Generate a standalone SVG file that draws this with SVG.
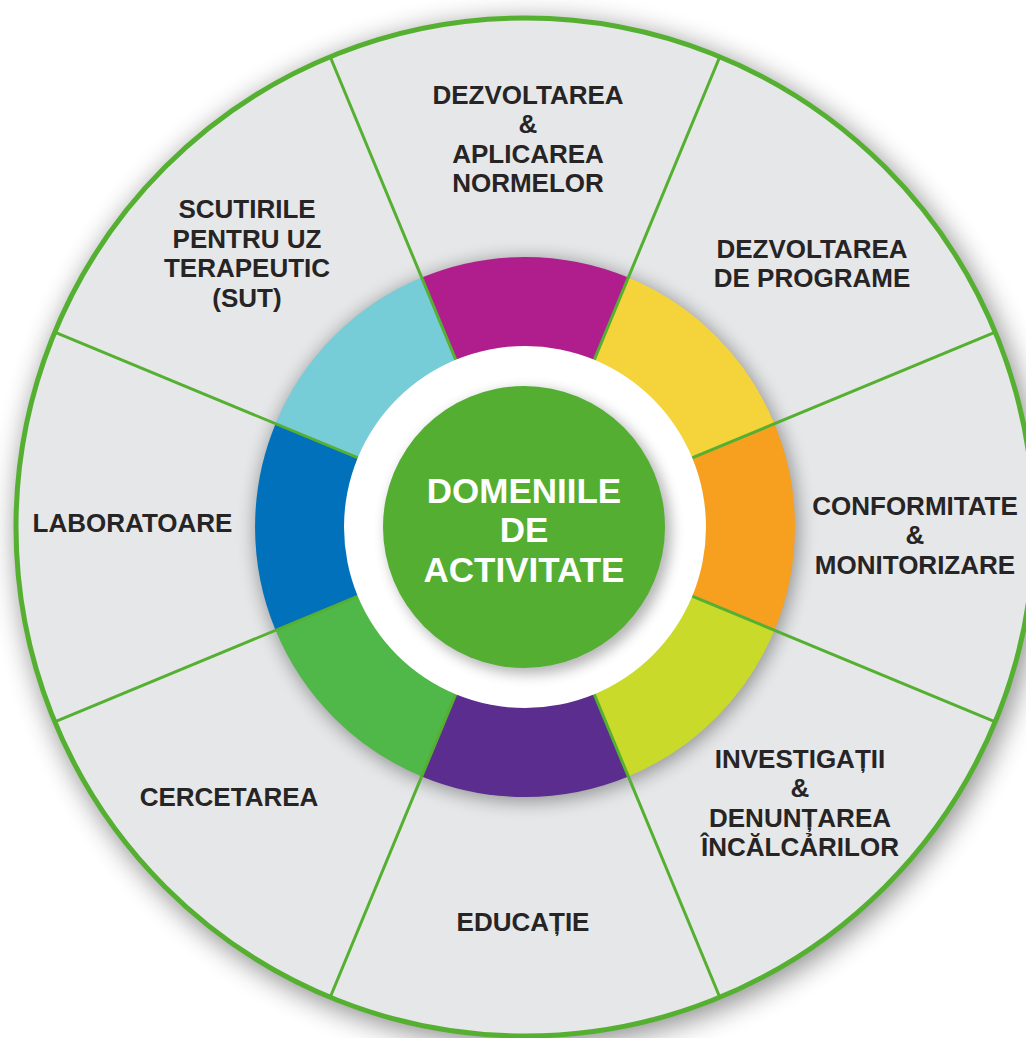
<svg xmlns="http://www.w3.org/2000/svg" width="1026" height="1038" viewBox="0 0 1026 1038">
  <defs>
    <filter id="outerShadow" x="-20%" y="-20%" width="140%" height="140%">
      <feGaussianBlur stdDeviation="14"/>
    </filter>
    <filter id="ringShadow" x="-20%" y="-20%" width="140%" height="140%">
      <feGaussianBlur stdDeviation="9"/>
    </filter>
    <filter id="centerShadow" x="-20%" y="-20%" width="140%" height="140%">
      <feGaussianBlur stdDeviation="7"/>
    </filter>
    <style>
      .lbl { font-family: "Liberation Sans", Arial, sans-serif; font-weight: bold; font-size: 26px; fill: #262425; text-anchor: middle; }
      .ctr { font-family: "Liberation Sans", Arial, sans-serif; font-weight: bold; font-size: 35px; fill: #ffffff; text-anchor: middle; }
      .div { stroke: #55B031; stroke-width: 3; fill: none; }
    </style>
  </defs>
  <rect width="1026" height="1038" fill="#ffffff"/>
  <g id="background">
    <circle cx="529" cy="533" r="512" fill="#000000" opacity="0.45" filter="url(#outerShadow)"/>
    <circle cx="525" cy="527" r="509" fill="#E6E7E8"/>
    <circle cx="527" cy="530" r="272" fill="#000000" opacity="0.35" filter="url(#ringShadow)"/>
  </g>

  <g id="sector-norme">
    <path d="M525 527 L421.7 277.6 A270 270 0 0 1 628.3 277.6 Z" fill="#B01E8E"/>
    <text class="lbl"><tspan x="528" y="104">DEZVOLTAREA</tspan><tspan x="528" y="133">&amp;</tspan><tspan x="528" y="163">APLICAREA</tspan><tspan x="528" y="192">NORMELOR</tspan></text>
  </g>
  <g id="sector-programe">
    <path d="M525 527 L628.3 277.6 A270 270 0 0 1 774.4 423.7 Z" fill="#F5D33B"/>
    <text class="lbl"><tspan x="812" y="258">DEZVOLTAREA</tspan><tspan x="812" y="287">DE PROGRAME</tspan></text>
  </g>
  <g id="sector-conformitate">
    <path d="M525 527 L774.4 423.7 A270 270 0 0 1 774.4 630.3 Z" fill="#F79F1F"/>
    <text class="lbl"><tspan x="915" y="515">CONFORMITATE</tspan><tspan x="915" y="544">&amp;</tspan><tspan x="915" y="574">MONITORIZARE</tspan></text>
  </g>
  <g id="sector-investigatii">
    <path d="M525 527 L774.4 630.3 A270 270 0 0 1 628.3 776.4 Z" fill="#C9DA2A"/>
    <text class="lbl"><tspan x="800" y="768">INVESTIGAȚII</tspan><tspan x="800" y="797">&amp;</tspan><tspan x="800" y="827">DENUNȚAREA</tspan><tspan x="800" y="856">ÎNCĂLCẢRILOR</tspan></text>
  </g>
  <g id="sector-educatie">
    <path d="M525 527 L628.3 776.4 A270 270 0 0 1 421.7 776.4 Z" fill="#5A2D8F"/>
    <text class="lbl"><tspan x="523" y="931">EDUCAȚIE</tspan></text>
  </g>
  <g id="sector-cercetarea">
    <path d="M525 527 L421.7 776.4 A270 270 0 0 1 275.6 630.3 Z" fill="#4FB848"/>
    <text class="lbl"><tspan x="229" y="806">CERCETAREA</tspan></text>
  </g>
  <g id="sector-laboratoare">
    <path d="M525 527 L275.6 630.3 A270 270 0 0 1 275.6 423.7 Z" fill="#0071BA"/>
    <text class="lbl"><tspan x="132.5" y="532">LABORATOARE</tspan></text>
  </g>
  <g id="sector-sut">
    <path d="M525 527 L275.6 423.7 A270 270 0 0 1 421.7 277.6 Z" fill="#76CDD7"/>
    <text class="lbl"><tspan x="247" y="218">SCUTIRILE</tspan><tspan x="247" y="248">PENTRU UZ</tspan><tspan x="247" y="277">TERAPEUTIC</tspan><tspan x="247" y="307">(SUT)</tspan></text>
  </g>

  <g id="connectors">
    <line class="div" x1="330.2" y1="56.7" x2="719.8" y2="997.3"/>
    <line class="div" x1="719.8" y1="56.7" x2="330.2" y2="997.3"/>
    <line class="div" x1="995.3" y1="332.2" x2="54.7" y2="721.8"/>
    <line class="div" x1="995.3" y1="721.8" x2="54.7" y2="332.2"/>
  </g>

  <g id="outline">
    <circle cx="525" cy="527" r="509" fill="none" stroke="#55B031" stroke-width="5"/>
  </g>

  <g id="center">
    <circle cx="525" cy="527" r="181" fill="#ffffff"/>
    <circle cx="529" cy="532" r="142" fill="#000000" opacity="0.3" filter="url(#centerShadow)"/>
    <circle cx="524" cy="527" r="141" fill="#53AE32"/>
    <text class="ctr"><tspan x="524" y="503">DOMENIILE</tspan><tspan x="524" y="542">DE</tspan><tspan x="524" y="582">ACTIVITATE</tspan></text>
  </g>
</svg>
